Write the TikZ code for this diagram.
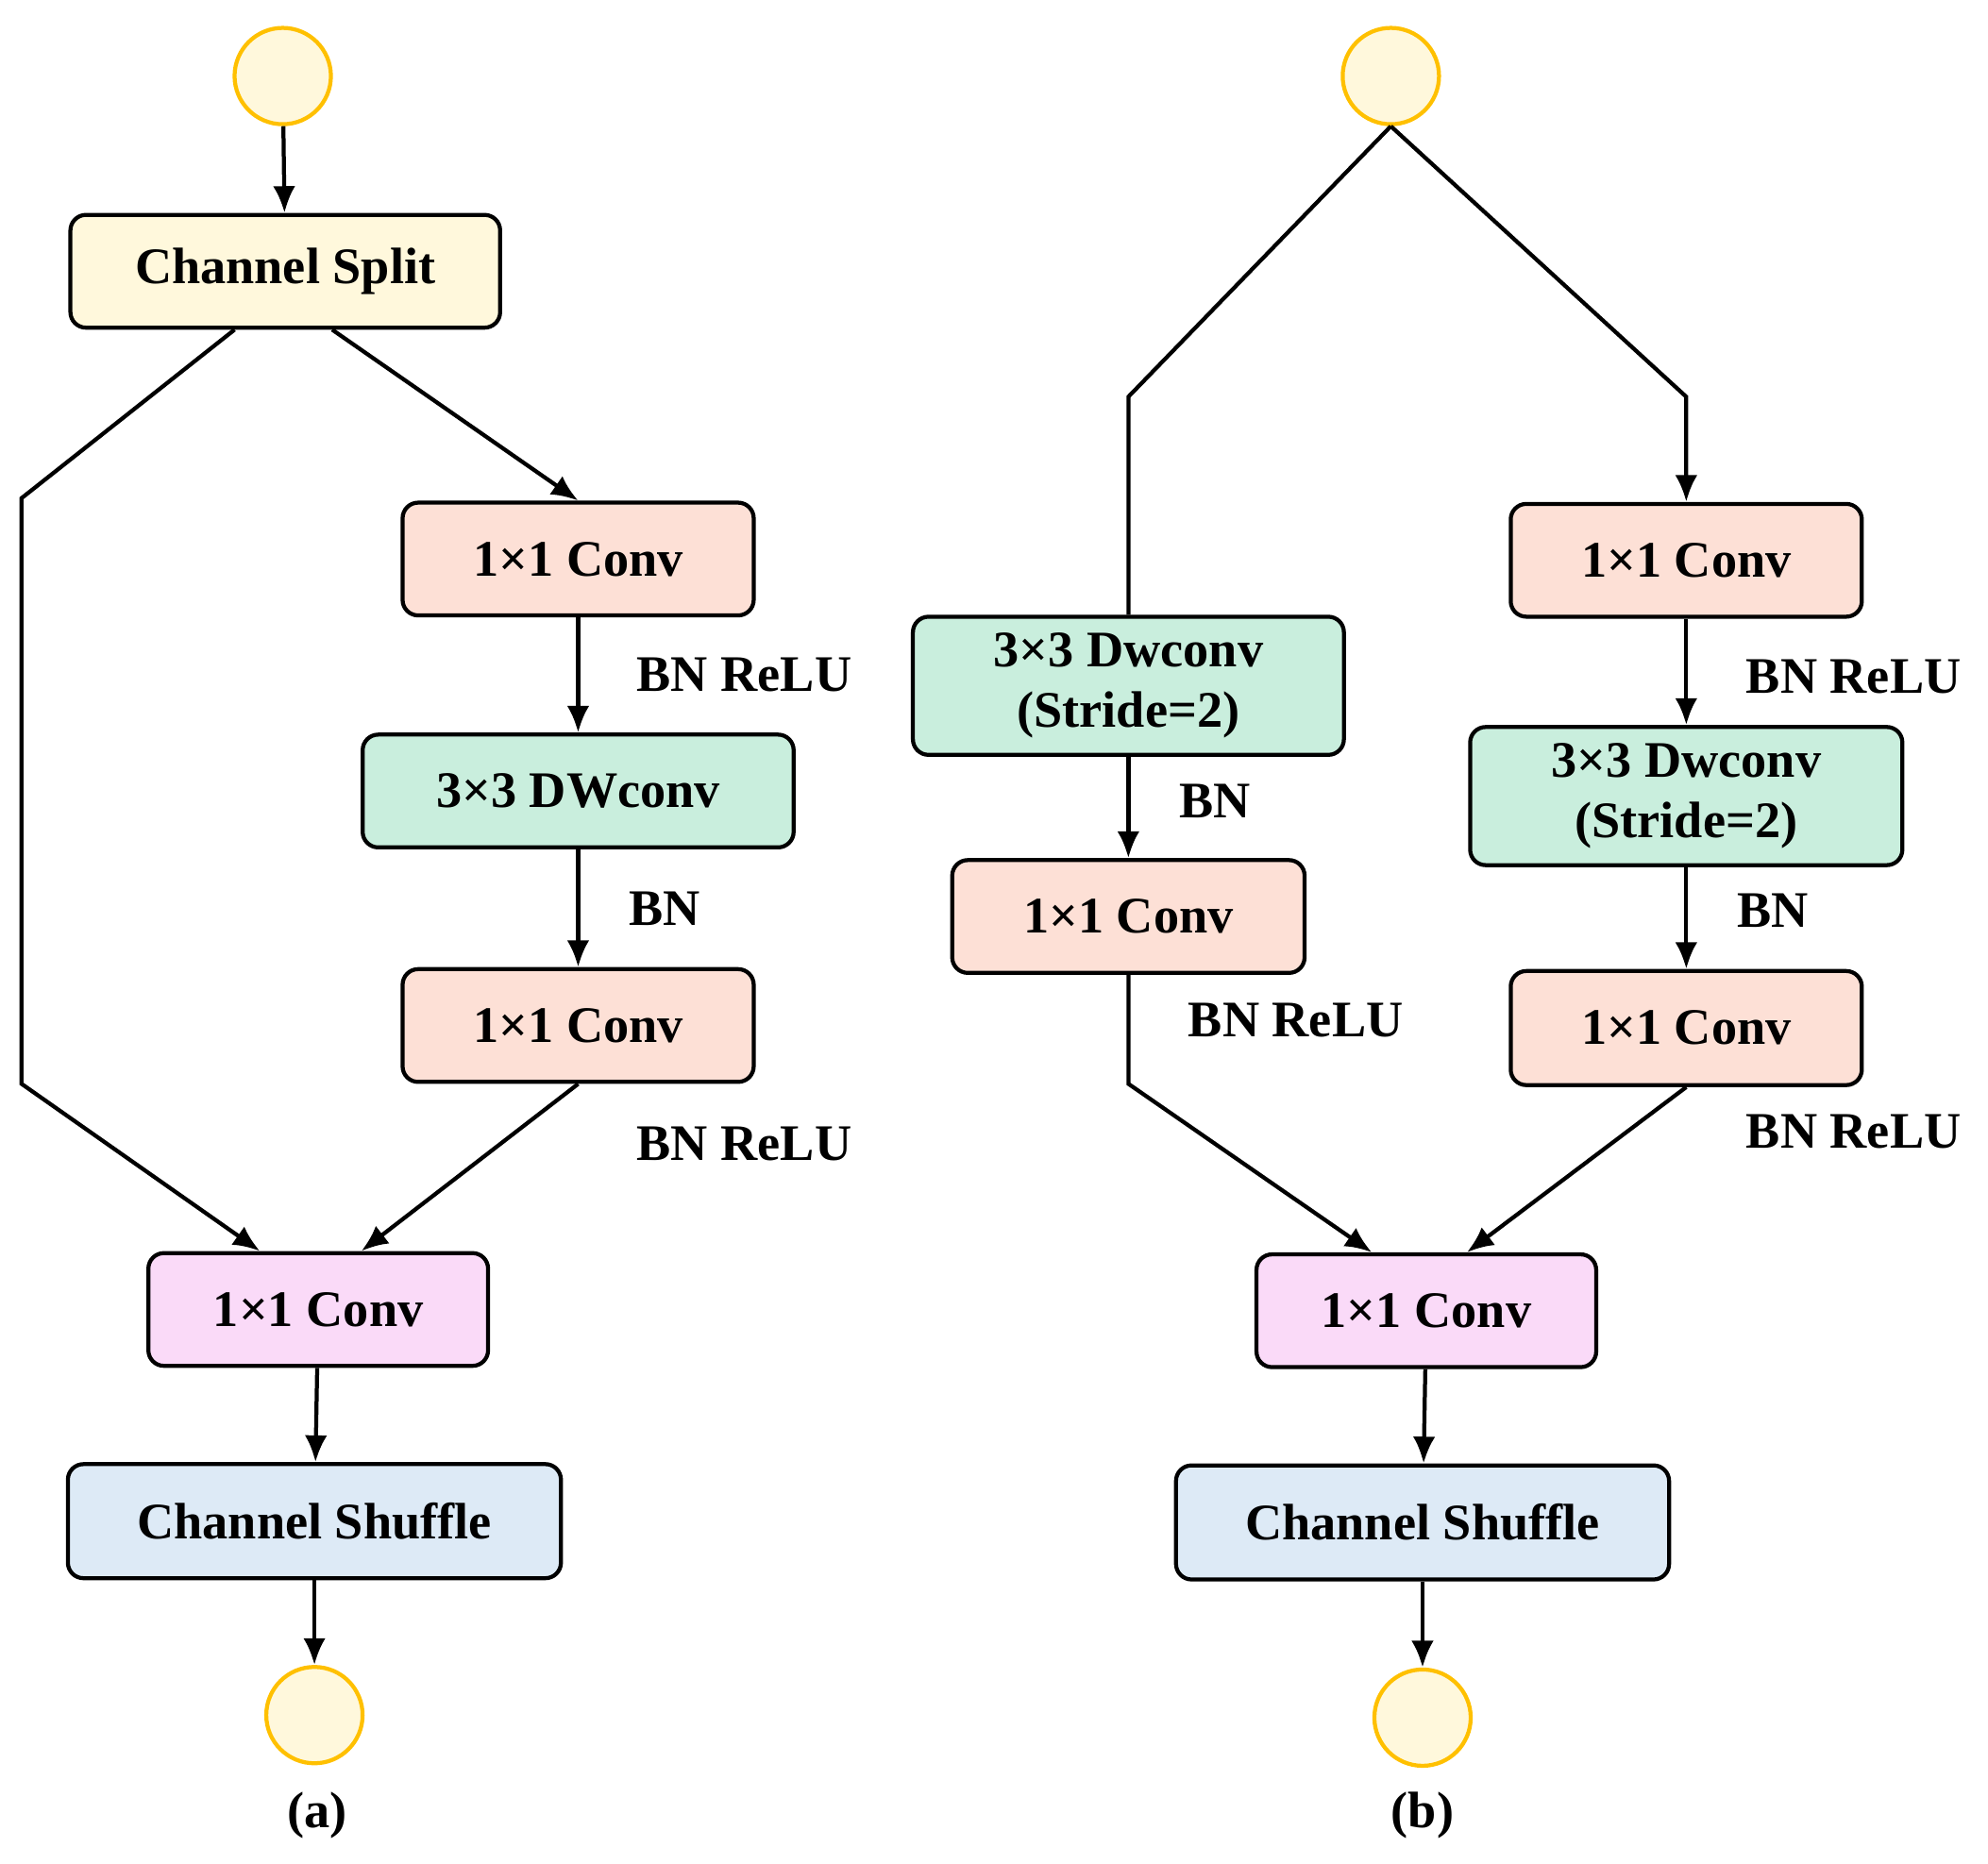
\documentclass[tikz,border=0pt]{standalone}
\usepackage{fontspec}
\setmainfont{Liberation Serif}
\usetikzlibrary{calc,arrows.meta}
\definecolor{gold}{HTML}{FFC000}
\definecolor{cream}{HTML}{FFF8DC}
\definecolor{salmon}{HTML}{FDE0D6}
\definecolor{mint}{HTML}{C9EEDD}
\definecolor{pinkc}{HTML}{FADAF8}
\definecolor{bluec}{HTML}{DDEAF6}
\begin{document}
\begin{tikzpicture}[x=0.02cm,y=-0.02cm,
  box/.style={draw, line width=1.8pt, rounded corners=7pt, inner sep=0pt, align=center,
    font=\fontsize{23}{27}\selectfont\bfseries},
  io/.style={circle, draw=gold, fill=cream, line width=1.8pt, minimum size=1.52cm, inner sep=0pt},
  lab/.style={font=\fontsize{23}{27}\selectfont\bfseries},
  ln/.style={line width=1.8pt},
  ar/.style={ln, -{Latex[length=12pt,width=10pt]}}]
\useasboundingbox (0,0) rectangle (1568,1470);
% (a)
\node[io] (ain) at (223,60) {};
\node[box, fill=cream, minimum width=6.78cm, minimum height=1.78cm] (split) at (225,214) {Channel Split};
\node[box, fill=salmon, minimum width=5.54cm, minimum height=1.78cm] (ac1) at (456,441) {1×1 Conv};
\node[box, fill=mint, minimum width=6.8cm, minimum height=1.78cm] (adw) at (456,624) {3×3 DWconv};
\node[box, fill=salmon, minimum width=5.54cm, minimum height=1.78cm] (ac2) at (456,809) {1×1 Conv};
\node[box, fill=pinkc, minimum width=5.36cm, minimum height=1.78cm] (ap) at (251,1033) {1×1 Conv};
\node[box, fill=bluec, minimum width=7.78cm, minimum height=1.8cm] (ash) at (248,1200) {Channel Shuffle};
\node[io] (aout) at (248,1353) {};
\node[lab] (la) at (250,1432) {(a)};
\node[lab] (l1) at (587,532) {BN ReLU};
\node[lab] (l2) at (524,717) {BN};
\node[lab] (l3) at (587,902) {BN ReLU};
\coordinate (a1) at (17,393);
\coordinate (a2) at (17,855);
\draw[ar] (ain) -- (split);
\draw[ar] ($(split.south)+(-40,0)$) -- (a1) -- (a2) -- ($(ap.north)+(-46,0)$);
\draw[ar] ($(split.south)+(37,0)$) -- (ac1.north);
\draw[ar] (ac1) -- (adw);
\draw[ar] (adw) -- (ac2);
\draw[ar] (ac2.south) -- ($(ap.north)+(34,0)$);
\draw[ar] (ap) -- (ash);
\draw[ar] (ash) -- (aout);
% (b)
\node[io] (bin) at (1097,60) {};
\node[box, fill=mint, minimum width=6.8cm, minimum height=2.18cm] (bdl) at (890,541) {3×3 Dwconv\\(Stride=2)};
\node[box, fill=salmon, minimum width=5.56cm, minimum height=1.78cm] (bcl) at (890,723) {1×1 Conv};
\node[box, fill=salmon, minimum width=5.54cm, minimum height=1.78cm] (bc1) at (1330,442) {1×1 Conv};
\node[box, fill=mint, minimum width=6.82cm, minimum height=2.18cm] (bdr) at (1330,628) {3×3 Dwconv\\(Stride=2)};
\node[box, fill=salmon, minimum width=5.54cm, minimum height=1.8cm] (bc2) at (1330,811) {1×1 Conv};
\node[box, fill=pinkc, minimum width=5.36cm, minimum height=1.78cm] (bp) at (1125,1034) {1×1 Conv};
\node[box, fill=bluec, minimum width=7.78cm, minimum height=1.8cm] (bsh) at (1122,1201) {Channel Shuffle};
\node[io] (bout) at (1122,1355) {};
\node[lab] (lb) at (1122,1432) {(b)};
\node[lab] (m1) at (958,632) {BN};
\node[lab] (m2) at (1022,805) {BN ReLU};
\node[lab] (m3) at (1462,534) {BN ReLU};
\node[lab] (m4) at (1398,718) {BN};
\node[lab] (m5) at (1462,893) {BN ReLU};
\coordinate (b1) at (890,313);
\coordinate (b2) at (1330,313);
\coordinate (b3) at (890,855);
\draw[ln] (bin.south) -- (b1) -- (bdl.north);
\draw[ar] (bin.south) -- (b2) -- (bc1.north);
\draw[ar] (bdl) -- (bcl);
\draw[ar] (bcl.south) -- (b3) -- ($(bp.north)+(-43,0)$);
\draw[ar] (bc1) -- (bdr);
\draw[ar] (bdr) -- (bc2);
\draw[ar] (bc2.south) -- ($(bp.north)+(32,0)$);
\draw[ar] (bp) -- (bsh);
\draw[ar] (bsh) -- (bout);
\end{tikzpicture}
\end{document}
